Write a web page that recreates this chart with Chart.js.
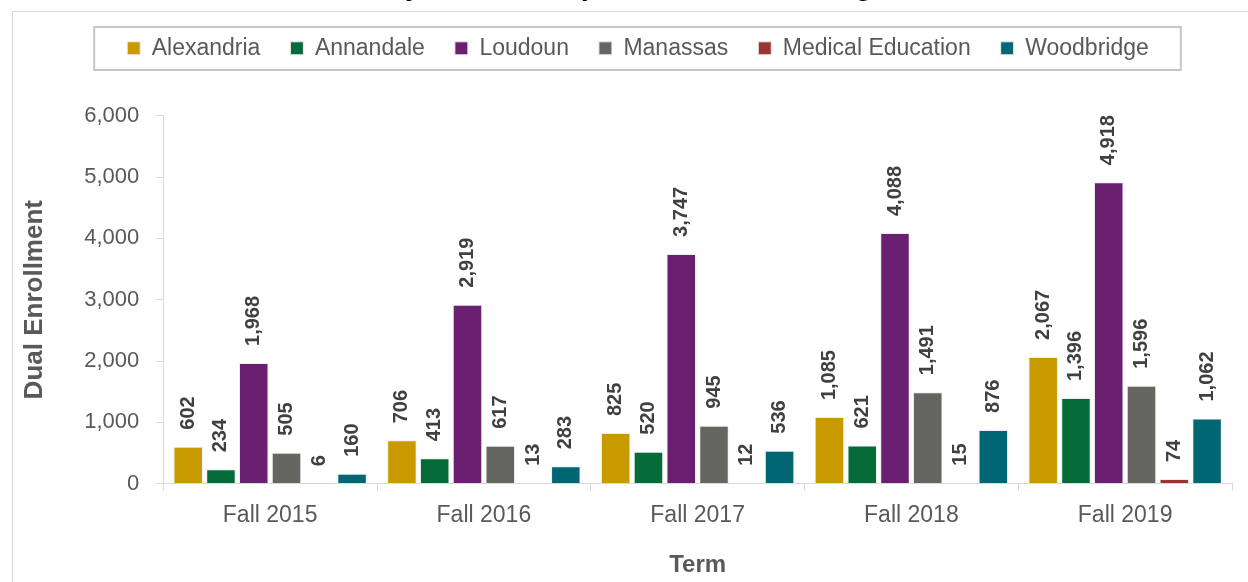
<!DOCTYPE html>
<html>
<head>
<meta charset="utf-8">
<script src="https://cdn.jsdelivr.net/npm/chart.js@4.4.1/dist/chart.umd.min.js"></script>
<style>
html, body { margin: 0; padding: 0; background: #fff; overflow: hidden; }
#wrap { position: absolute; left: 0; top: -34px; width: 1248px; height: 616px; }
</style>
</head>
<body>
<div id="wrap"><canvas id="barChart" width="1248" height="616"></canvas></div>
<script>
// terms and campus series
const terms = ['Fall 2015', 'Fall 2016', 'Fall 2017', 'Fall 2018', 'Fall 2019'];
const campuses = ['Alexandria', 'Annandale', 'Loudoun', 'Manassas', 'Medical Education', 'Woodbridge'];

const alexandria = [602, 706, 825, 1085, 2067];
const annandale = [234, 413, 520, 621, 1396];
const loudoun = [1968, 2919, 3747, 4088, 4918];
const manassas = [505, 617, 945, 1491, 1596];
const medicalEducation = [6, 13, 12, 15, 74];
const woodbridge = [160, 283, 536, 876, 1062];

const seriesValues = [alexandria, annandale, loudoun, manassas, medicalEducation, woodbridge];
const barColors = ['#c99a00', '#056b39', '#6a1f71', '#666660', '#9b3535', '#006673'];

Chart.defaults.font.family = '"Liberation Sans", Arial, sans-serif';
Chart.defaults.color = '#595959';

// frame, legend box, value labels
let extras = {
    id: 'extras',
    beforeLayout(chart) {
        let lg = chart.legend;
        if (lg && !lg._padded) {
            let fit = lg.fit;
            lg.fit = function () { fit.call(this); this.height += 46; };
            lg._padded = true;
        }
    },
    afterLayout(chart) {
        [chart.legend, chart.titleBlock].forEach(b => {
            if (b) { b.left += 16; b.right += 16; }
        });
    },
    beforeDraw(chart) {
        let ctx = chart.ctx;
        ctx.save();
        ctx.strokeStyle = '#d9d9d9';
        ctx.lineWidth = 1;
        ctx.strokeRect(12.5, 45.5, 1300, 700);
        ctx.restore();
    },
    afterDraw(chart) {
        let ctx = chart.ctx;
        let hb = chart.legend.legendHitBoxes;
        if (!hb || !hb.length) return;
        let left = hb[0].left - 33;
        let right = hb[hb.length - 1].left + hb[hb.length - 1].width + 32;
        ctx.save();
        ctx.strokeStyle = '#c6c6c6';
        ctx.lineWidth = 2;
        ctx.strokeRect(left, 61, right - left, 43);
        ctx.restore();
    },
    afterDatasetsDraw(chart) {
        let ctx = chart.ctx;
        ctx.save();
        ctx.font = 'bold 20px "Liberation Sans", Arial, sans-serif';
        ctx.fillStyle = '#404040';
        ctx.textAlign = 'left';
        ctx.textBaseline = 'middle';
        chart.data.datasets.forEach((ds, i) => {
            chart.getDatasetMeta(i).data.forEach((bar, j) => {
                ctx.save();
                ctx.translate(bar.x, bar.y - 17);
                ctx.rotate(-Math.PI / 2);
                ctx.fillText(ds.data[j].toLocaleString('en-US'), 0, 0);
                ctx.restore();
            });
        });
        ctx.restore();
    }
};

let ctx = document.getElementById('barChart').getContext('2d');

let barChart = new Chart(ctx, {
    type: 'bar',
    data: {
        labels: terms,
        datasets: campuses.map((name, i) => ({
            label: name,
            data: seriesValues[i],
            backgroundColor: barColors[i],
            borderColor: '#ececec',
            borderWidth: 1,
            categoryPercentage: 0.92,
            barPercentage: 0.9
        }))
    },
    options: {
        responsive: false,
        animation: false,
        devicePixelRatio: 1,
        layout: { padding: { left: 12, right: 16, top: 0, bottom: 0 } },
        plugins: {
            title: {
                display: true,
                text: 'Students by Home Campus: Fall 2015 through Fall 2019',
                color: '#000',
                font: { size: 29, weight: 'bold' },
                padding: { top: 4, bottom: 2 }
            },
            legend: {
                position: 'top',
                labels: {
                    boxWidth: 13,
                    boxHeight: 13,
                    padding: 30,
                    color: '#595959',
                    font: { size: 23 }
                }
            },
            tooltip: { enabled: false }
        },
        scales: {
            x: {
                grid: { drawOnChartArea: false, color: '#d9d9d9', tickLength: 7 },
                border: { color: '#d9d9d9' },
                ticks: { color: '#595959', font: { size: 23 }, padding: 11 },
                title: {
                    display: true,
                    text: 'Term',
                    color: '#595959',
                    font: { size: 24, weight: 'bold' },
                    padding: { top: 11, bottom: 2 }
                }
            },
            y: {
                min: 0,
                max: 6000,
                ticks: { stepSize: 1000, color: '#595959', font: { size: 22 }, padding: 17 },
                grid: { drawOnChartArea: false, color: '#d9d9d9', tickLength: 7 },
                border: { color: '#d9d9d9' },
                title: {
                    display: true,
                    text: 'Dual Enrollment',
                    color: '#595959',
                    font: { size: 26, weight: 'bold' },
                    padding: { top: 7, bottom: 17 }
                }
            }
        }
    },
    plugins: [extras]
});
</script>
</body>
</html>
